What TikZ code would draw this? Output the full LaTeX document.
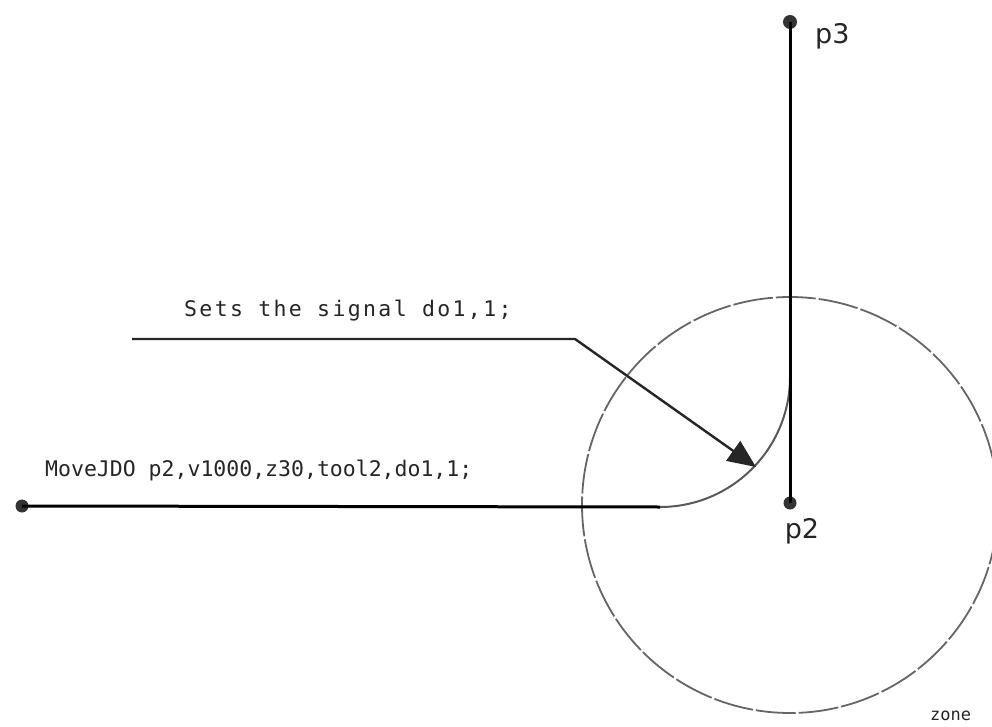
\documentclass[tikz,border=0pt]{standalone}
\usepackage{fontspec}
\setmonofont{DejaVu Sans Mono}
\newfontfamily\codefont{DejaVu Sans Mono}
\newfontfamily\widecode[LetterSpace=11]{DejaVu Sans Mono}
\newfontfamily\labfont{DejaVu Sans}
\usetikzlibrary{arrows.meta}
\begin{document}
\begin{tikzpicture}[x=1pt,y=-1pt,
  dot/.style={circle,fill=black!80,inner sep=0pt,minimum size=13pt},
  path line/.style={line width=3pt,black},
  arc line/.style={line width=2pt,black!65},
  zone line/.style={line width=1.8pt,black!60,dash pattern=on 40pt off 3pt},
  pointer/.style={line width=2.4pt,black!85,-{Triangle[length=28pt,width=24pt]}},
  code/.style={font=\codefont\fontsize{21.5}{24}\selectfont,text=black!85,inner sep=0pt,anchor=west},
  ptlabel/.style={font=\labfont\fontsize{27}{30}\selectfont,text=black!85,inner sep=0pt}]
\useasboundingbox (0,0) rectangle (992,727);
\fill[white] (0,0) rectangle (992,727);
% zone circle
\draw[zone line] (790,505) circle[radius=208pt];
% points
\node[dot] (p1) at (22,506) {};
\node[dot] (p2) at (790,503) {};
\node[dot,minimum size=14pt] (p3) at (790,22) {};
\coordinate (c1) at (660,507);
\coordinate (c2) at (790,385);
% path
\draw[path line] (p1.center) -- (c1);
\draw[arc line] (c1) arc[start angle=-90,end angle=0,radius=130pt];
\draw[path line] (p2.center) -- (p3.center);
% pointer
\coordinate (s0) at (132,339);
\coordinate (s1) at (575,339);
\coordinate (s2) at (756,467);
\draw[pointer] (s0) -- (s1) -- (s2);
% texts
\node[code] (t1) at (184,311) {\widecode Sets the signal do1,1;};
\node[code] (t2) at (45,471) {MoveJDO p2,v1000,z30,tool2,do1,1;};
\node[ptlabel,anchor=west] (l3) at (815,36) {p3};
\node[ptlabel] (l2) at (802,531) {p2};
\node[code,font=\codefont\fontsize{17}{20}\selectfont] (z) at (930,716) {zone};
\end{tikzpicture}
\end{document}
